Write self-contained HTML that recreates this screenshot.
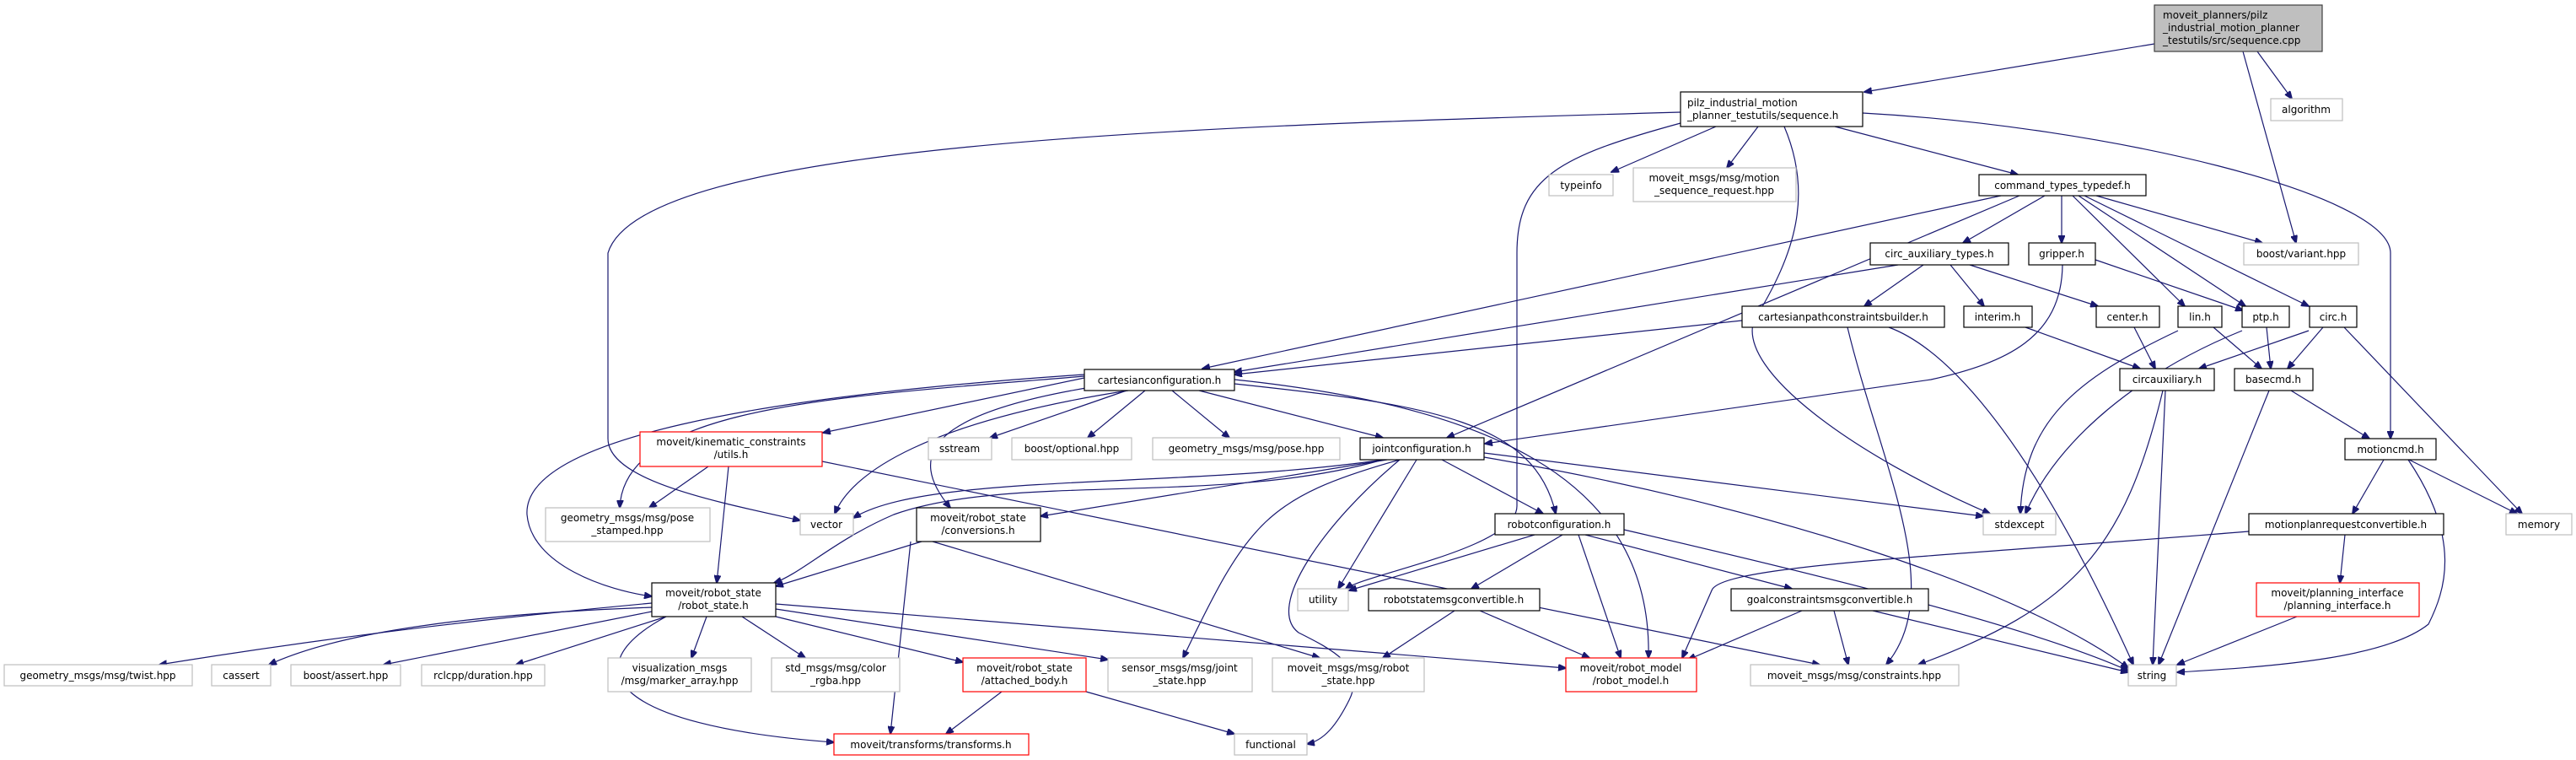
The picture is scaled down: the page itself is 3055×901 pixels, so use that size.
<!DOCTYPE html>
<html><head><meta charset="utf-8"><style>
html,body{margin:0;padding:0;background:#fff;}
svg{display:block;}
text{font-family:"DejaVu Sans","Liberation Sans",sans-serif;font-size:12px;fill:#000;}
.e{fill:none;stroke:#191970;stroke-width:1.2;}
.b{fill:#fff;stroke:#000;stroke-width:1.2;}
.g{fill:#fff;stroke:#bfbfbf;stroke-width:1.2;}
.r{fill:#fff;stroke:#ff0000;stroke-width:1.2;}
</style></head><body>
<svg width="3055" height="901" viewBox="0 0 3055 901" xmlns="http://www.w3.org/2000/svg">
<defs><marker id="a" markerWidth="10" markerHeight="8" refX="9" refY="4" orient="auto" markerUnits="userSpaceOnUse"><path d="M0,0 L10,4 L0,8 z" fill="#191970" stroke="#191970"/></marker></defs>
<g marker-end="url(#a)">
<path class="e" d="M2555,52 L2211,109"/>
<path class="e" d="M2677,61 L2718,117"/>
<path class="e" d="M2660,61 L2723,288"/>
<path class="e" d="M2035,150 L1911,204"/>
<path class="e" d="M2085,150 L2048,199"/>
<path class="e" d="M2176,150 L2393,207"/>
<path class="e" d="M1993,133 C1400,150 760,170 721,300 L721,520 C721,570 850,595 949,617"/>
<path class="e" d="M1993,146 C1850,185 1799,210 1799,300 L1799,600 C1799,650 1620,680 1596,698"/>
<path class="e" d="M2116,150 C2150,230 2130,300 2080,380 C2060,440 2200,540 2360,609"/>
<path class="e" d="M2209,134 C2500,150 2835,230 2835,300 L2835,520"/>
<path class="e" d="M2373,232 L1426,437"/>
<path class="e" d="M2251,314 L1464,441"/>
<path class="e" d="M2066,380 L1464,444"/>
<path class="e" d="M2395,232 L1716,519"/>
<path class="e" d="M2425,232 L2328,288"/>
<path class="e" d="M2445,232 L2445,288"/>
<path class="e" d="M2486,232 L2683,288"/>
<path class="e" d="M2458,232 L2591,363"/>
<path class="e" d="M2465,232 L2663,363"/>
<path class="e" d="M2472,232 L2738,363"/>
<path class="e" d="M2281,314 L2211,363"/>
<path class="e" d="M2313,314 L2353,363"/>
<path class="e" d="M2336,314 L2488,363"/>
<path class="e" d="M2485,308 L2660,368"/>
<path class="e" d="M2446,314 C2445,400 2380,430 2290,450 L1761,526"/>
<path class="e" d="M2240,388 C2300,410 2400,500 2530,788"/>
<path class="e" d="M2191,388 C2230,550 2310,700 2237,788"/>
<path class="e" d="M2402,388 L2538,437"/>
<path class="e" d="M2531,388 L2556,437"/>
<path class="e" d="M2625,388 L2682,437"/>
<path class="e" d="M2583,392 C2460,450 2400,500 2396,609"/>
<path class="e" d="M2688,388 L2693,437"/>
<path class="e" d="M2659,392 C2540,440 2440,520 2402,609"/>
<path class="e" d="M2738,392 L2608,437"/>
<path class="e" d="M2755,388 L2713,437"/>
<path class="e" d="M2780,388 L2991,609"/>
<path class="e" d="M2568,463 L2553,788"/>
<path class="e" d="M2565,463 C2520,650 2460,720 2275,788"/>
<path class="e" d="M2691,463 L2560,788"/>
<path class="e" d="M2717,463 L2810,520"/>
<path class="e" d="M2827,545 L2790,609"/>
<path class="e" d="M2857,545 L2985,609"/>
<path class="e" d="M2856,545 C2920,640 2900,700 2880,740 C2830,780 2700,790 2582,797"/>
<path class="e" d="M2781,634 L2775,691"/>
<path class="e" d="M2667,630 C2300,660 2040,670 2030,700 L1995,780"/>
<path class="e" d="M2724,731 L2582,788"/>
<path class="e" d="M1336,463 L1174,519"/>
<path class="e" d="M1358,463 L1290,519"/>
<path class="e" d="M1390,463 L1458,519"/>
<path class="e" d="M1422,463 L1640,519"/>
<path class="e" d="M1300,458 C1100,490 1075,540 1127,602"/>
<path class="e" d="M1464,455 C1700,480 1820,500 1845,609"/>
<path class="e" d="M1464,450 C1750,480 1960,560 1955,780"/>
<path class="e" d="M1286,448 L976,513"/>
<path class="e" d="M1286,446 C1000,470 740,480 735,602"/>
<path class="e" d="M1338,463 C1100,500 1010,560 990,609"/>
<path class="e" d="M1286,444 C900,470 620,520 625,610 C630,670 720,700 773,707"/>
<path class="e" d="M840,553 L770,602"/>
<path class="e" d="M864,553 L850,691"/>
<path class="e" d="M975,547 L2158,788"/>
<path class="e" d="M1641,545 C1400,580 1100,560 1012,614"/>
<path class="e" d="M1640,545 C1450,600 1200,560 1060,610 C990,640 950,680 918,691"/>
<path class="e" d="M1645,545 L1234,612"/>
<path class="e" d="M1660,545 C1500,590 1480,620 1403,780"/>
<path class="e" d="M1660,545 C1570,620 1500,720 1540,750 C1580,770 1620,790 1600,830 C1585,860 1570,878 1550,882"/>
<path class="e" d="M1680,545 L1587,698"/>
<path class="e" d="M1710,545 L1830,609"/>
<path class="e" d="M1760,537 L2352,612"/>
<path class="e" d="M1760,542 C2100,600 2400,700 2524,792"/>
<path class="e" d="M1093,642 L920,695"/>
<path class="e" d="M1080,642 L1056,870"/>
<path class="e" d="M1106,642 L1565,780"/>
<path class="e" d="M1820,634 L1600,700"/>
<path class="e" d="M1853,634 L1745,698"/>
<path class="e" d="M1872,634 L1922,780"/>
<path class="e" d="M1880,634 L2125,698"/>
<path class="e" d="M1926,628 C2150,680 2400,740 2524,795"/>
<path class="e" d="M1725,724 L1640,780"/>
<path class="e" d="M1755,724 L1885,780"/>
<path class="e" d="M2175,724 L2192,788"/>
<path class="e" d="M2137,724 L2002,782"/>
<path class="e" d="M2221,724 L2524,797"/>
<path class="e" d="M773,715 C500,740 300,770 189,788"/>
<path class="e" d="M773,720 C500,730 380,760 319,788"/>
<path class="e" d="M773,725 L455,788"/>
<path class="e" d="M790,731 L612,788"/>
<path class="e" d="M838,731 L820,780"/>
<path class="e" d="M880,731 L955,780"/>
<path class="e" d="M920,731 L1142,785"/>
<path class="e" d="M920,722 L1314,782"/>
<path class="e" d="M920,716 L1857,792"/>
<path class="e" d="M790,731 C680,790 720,860 989,880"/>
<path class="e" d="M1188,820 L1122,870"/>
<path class="e" d="M1288,820 L1464,870"/>
</g>
<!-- nodes -->
<rect x="2555" y="6" width="199" height="55" fill="#bfbfbf" stroke="#404040" stroke-width="1.2"/>
<text x="2565" y="22">moveit_planners/pilz</text><text x="2565" y="37">_industrial_motion_planner</text><text x="2565" y="52">_testutils/src/sequence.cpp</text>
<g text-anchor="middle">
<rect class="b" x="1993" y="109" width="216" height="41"/>
<text x="2001" y="126" text-anchor="start">pilz_industrial_motion</text><text x="2001" y="141" text-anchor="start">_planner_testutils/sequence.h</text>
<rect class="g" x="2693" y="117" width="85" height="26"/><text x="2735" y="134">algorithm</text>
<rect class="g" x="1837" y="207" width="76" height="25"/><text x="1875" y="224">typeinfo</text>
<rect class="g" x="1937" y="199" width="193" height="40"/><text x="2033" y="215">moveit_msgs/msg/motion</text><text x="2033" y="230">_sequence_request.hpp</text>
<rect class="b" x="2347" y="207" width="198" height="25"/><text x="2446" y="224">command_types_typedef.h</text>
<rect class="b" x="2218" y="288" width="164" height="26"/><text x="2300" y="305">circ_auxiliary_types.h</text>
<rect class="b" x="2406" y="288" width="79" height="26"/><text x="2445" y="305">gripper.h</text>
<rect class="g" x="2661" y="288" width="136" height="26"/><text x="2729" y="305">boost/variant.hpp</text>
<rect class="b" x="2066" y="363" width="240" height="25"/><text x="2186" y="380">cartesianpathconstraintsbuilder.h</text>
<rect class="b" x="2329" y="363" width="81" height="25"/><text x="2369" y="380">interim.h</text>
<rect class="b" x="2486" y="363" width="75" height="25"/><text x="2523" y="380">center.h</text>
<rect class="b" x="2583" y="363" width="52" height="25"/><text x="2609" y="380">lin.h</text>
<rect class="b" x="2659" y="363" width="56" height="25"/><text x="2687" y="380">ptp.h</text>
<rect class="b" x="2739" y="363" width="56" height="25"/><text x="2767" y="380">circ.h</text>
<rect class="b" x="2514" y="437" width="112" height="26"/><text x="2570" y="454">circauxiliary.h</text>
<rect class="b" x="2650" y="437" width="93" height="26"/><text x="2696" y="454">basecmd.h</text>
<rect class="b" x="1286" y="438" width="178" height="25"/><text x="1375" y="455">cartesianconfiguration.h</text>
<rect class="g" x="1101" y="519" width="75" height="26"/><text x="1138" y="536">sstream</text>
<rect class="g" x="1200" y="519" width="142" height="26"/><text x="1271" y="536">boost/optional.hpp</text>
<rect class="g" x="1367" y="519" width="222" height="26"/><text x="1478" y="536">geometry_msgs/msg/pose.hpp</text>
<rect class="b" x="1613" y="519" width="147" height="26"/><text x="1686" y="536">jointconfiguration.h</text>
<rect class="r" x="759" y="512" width="216" height="41"/><text x="867" y="528">moveit/kinematic_constraints</text><text x="867" y="543">/utils.h</text>
<rect class="b" x="2781" y="520" width="108" height="25"/><text x="2835" y="537">motioncmd.h</text>
<rect class="g" x="647" y="602" width="195" height="40"/><text x="744" y="618">geometry_msgs/msg/pose</text><text x="744" y="633">_stamped.hpp</text>
<rect class="g" x="949" y="609" width="63" height="25"/><text x="980" y="626">vector</text>
<rect class="b" x="1087" y="602" width="147" height="40"/><text x="1160" y="618">moveit/robot_state</text><text x="1160" y="633">/conversions.h</text>
<rect class="b" x="1773" y="609" width="153" height="25"/><text x="1849" y="626">robotconfiguration.h</text>
<rect class="g" x="2352" y="609" width="86" height="25"/><text x="2395" y="626">stdexcept</text>
<rect class="b" x="2667" y="609" width="231" height="25"/><text x="2782" y="626">motionplanrequestconvertible.h</text>
<rect class="g" x="2972" y="609" width="78" height="25"/><text x="3011" y="626">memory</text>
<rect class="b" x="773" y="691" width="147" height="40"/><text x="846" y="707">moveit/robot_state</text><text x="846" y="722">/robot_state.h</text>
<rect class="g" x="1539" y="698" width="60" height="26"/><text x="1569" y="715">utility</text>
<rect class="b" x="1623" y="698" width="203" height="26"/><text x="1724" y="715">robotstatemsgconvertible.h</text>
<rect class="b" x="2053" y="698" width="234" height="26"/><text x="2170" y="715">goalconstraintsmsgconvertible.h</text>
<rect class="r" x="2676" y="691" width="193" height="40"/><text x="2772" y="707">moveit/planning_interface</text><text x="2772" y="722">/planning_interface.h</text>
<rect class="g" x="5" y="788" width="223" height="25"/><text x="116" y="805">geometry_msgs/msg/twist.hpp</text>
<rect class="g" x="251" y="788" width="70" height="25"/><text x="286" y="805">cassert</text>
<rect class="g" x="345" y="788" width="130" height="25"/><text x="410" y="805">boost/assert.hpp</text>
<rect class="g" x="500" y="788" width="146" height="25"/><text x="573" y="805">rclcpp/duration.hpp</text>
<rect class="g" x="721" y="780" width="170" height="40"/><text x="806" y="796">visualization_msgs</text><text x="806" y="811">/msg/marker_array.hpp</text>
<rect class="g" x="915" y="780" width="152" height="40"/><text x="991" y="796">std_msgs/msg/color</text><text x="991" y="811">_rgba.hpp</text>
<rect class="r" x="1142" y="780" width="146" height="40"/><text x="1215" y="796">moveit/robot_state</text><text x="1215" y="811">/attached_body.h</text>
<rect class="g" x="1314" y="780" width="171" height="40"/><text x="1399" y="796">sensor_msgs/msg/joint</text><text x="1399" y="811">_state.hpp</text>
<rect class="g" x="1509" y="780" width="180" height="40"/><text x="1599" y="796">moveit_msgs/msg/robot</text><text x="1599" y="811">_state.hpp</text>
<rect class="r" x="1857" y="780" width="155" height="40"/><text x="1934" y="796">moveit/robot_model</text><text x="1934" y="811">/robot_model.h</text>
<rect class="g" x="2076" y="788" width="247" height="25"/><text x="2199" y="805">moveit_msgs/msg/constraints.hpp</text>
<rect class="g" x="2524" y="788" width="57" height="25"/><text x="2552" y="805">string</text>
<rect class="r" x="989" y="870" width="231" height="25"/><text x="1104" y="887">moveit/transforms/transforms.h</text>
<rect class="g" x="1464" y="870" width="86" height="25"/><text x="1507" y="887">functional</text>
</g>
</svg>
</body></html>
